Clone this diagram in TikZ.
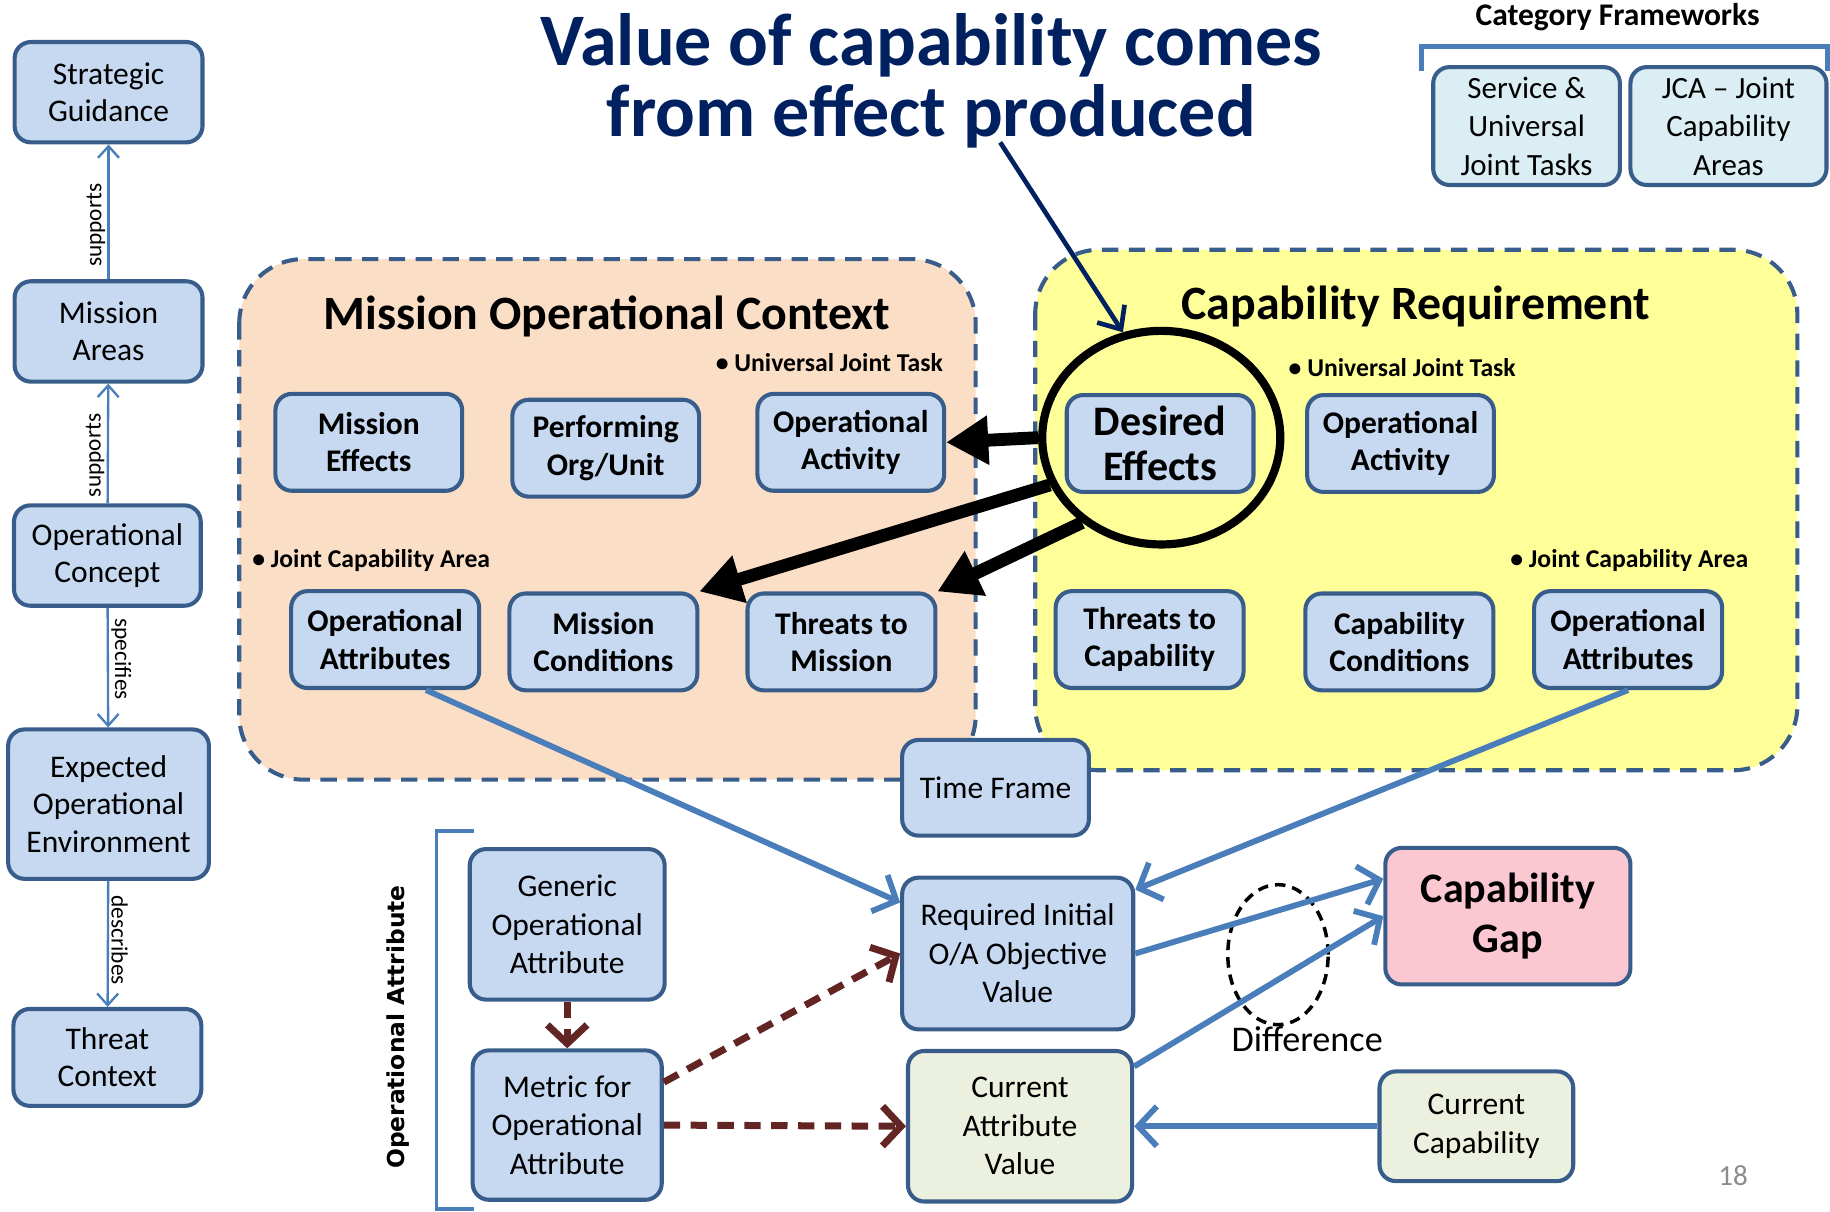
\documentclass[tikz,border=0pt]{standalone}
\usepackage{fontspec}
\setmainfont{Carlito}
\newfontfamily\vertfont{DejaVu Sans}
\usepackage{tikz}
\usetikzlibrary{arrows}
\usetikzlibrary{arrows.meta}
\usetikzlibrary{shapes.geometric}

\definecolor{boxfill}{HTML}{C6D9F1}
\definecolor{boxline}{HTML}{385D8A}
\definecolor{catfill}{HTML}{DBEEF4}
\definecolor{greenfill}{HTML}{EBF1DE}
\definecolor{gapfill}{HTML}{FBC8D2}
\definecolor{peach}{HTML}{FBDEC6}
\definecolor{lightyellow}{HTML}{FFFF99}
\definecolor{navy}{HTML}{002060}
\definecolor{linkblue}{HTML}{4A7EBB}
\definecolor{darkred}{HTML}{632523}

\begin{document}
\begin{tikzpicture}[x=1pt,y=-1pt,
			box/.style={rectangle,rounded corners=14pt,draw=boxline,line width=3.5pt,
				fill=boxfill,align=center,inner sep=0pt,font=\fontsize{27}{32}\selectfont},
			bold box/.style={box,font=\fontsize{27}{32}\selectfont\bfseries},
			dims/.style 2 args={minimum width=#1pt,minimum height=#2pt},
			region/.style={draw=boxline,line width=3.5pt,dash pattern=on 14pt off 9pt,
				rounded corners=55pt},
			tag/.style={font=\fontsize{22}{26}\selectfont\bfseries,inner sep=0pt},
			link/.style={draw=linkblue,line width=2pt,-{Straight Barb[length=10pt,width=18pt]}},
			flow/.style={draw=linkblue,line width=5pt,-{Straight Barb[length=16pt,width=34pt]}},
			metric/.style={draw=darkred,line width=6pt,dash pattern=on 14pt off 9pt,
				-{Straight Barb[length=16pt,width=34pt]}},
			effect/.style={draw=black,line width=11pt,-{Triangle[length=36pt,width=40pt]}},
			pointer/.style={draw=navy,line width=4pt,-{Straight Barb[length=16pt,width=28pt]}}]
			
			\useasboundingbox (0,0) rectangle (1568,1038);
			
			% context and requirement areas
			\draw[region,fill=peach] (205,222) rectangle (836,668);
			\draw[region,fill=lightyellow] (887,214) rectangle (1540,660);
			
			\node[font=\fontsize{63.5}{61}\selectfont\bfseries,text=navy,align=center] (title) at (798,69)
				{Value of capability comes\\from effect produced};
			\coordinate (p) at (857,122);
			
			% left column
			\node[box,dims={161}{86}] (A) at (93,79) {Strategic\\Guidance};
			\node[box,dims={161}{86}] (B) at (93,284) {Mission\\Areas};
			\node[box,dims={160}{86}] (C) at (92,476) {Operational\\Concept};
			\node[box,dims={172}{128}] (D) at (93,689) {Expected\\Operational\\Environment};
			\node[box,dims={161}{83}] (E) at (92,906) {Threat\\Context};
			
			% category frameworks
			\node[font=\fontsize{27}{32}\selectfont\bfseries] (cat) at (1386,15) {Category Frameworks};
			\draw[linkblue,line width=4pt] (1218,61) -- (1218,40) -- (1566,40) -- (1566,61);
			\node[box,fill=catfill,dims={160}{101},font=\fontsize{26.5}{33}\selectfont] (F) at (1308,108)
				{Service \&\\Universal\\Joint Tasks};
			\node[box,fill=catfill,dims={168}{101},font=\fontsize{26.5}{33}\selectfont] (G) at (1481,108)
				{JCA -- Joint\\Capability\\Areas};
			
			% mission operational context
			\node[font=\fontsize{41}{46}\selectfont\bfseries] (moc) at (520,271) {Mission Operational Context};
			\node[tag,anchor=east] at (808,311) {• Universal Joint Task};
			\node[tag,anchor=west] at (216,480) {• Joint Capability Area};
			\node[bold box,dims={160}{83}] (H) at (316,379) {Mission\\Effects};
			\node[bold box,dims={160}{83}] (I) at (519,384) {Performing\\Org/Unit};
			\node[bold box,dims={160}{83}] (J) at (729,379) {Operational\\Activity};
			\node[bold box,dims={161}{83}] (K) at (330,548) {Operational\\Attributes};
			\node[bold box,dims={161}{83}] (L) at (517,550) {Mission\\Conditions};
			\node[bold box,dims={161}{83}] (M) at (721,550) {Threats to\\Mission};
			
			% capability requirement
			\node[font=\fontsize{41}{46}\selectfont\bfseries] (cr) at (1213,263) {Capability Requirement};
			\node[tag,anchor=west] at (1104,315) {• Universal Joint Task};
			\node[tag,anchor=east] at (1498,480) {• Joint Capability Area};
			\node[bold box,dims={160}{83},font=\fontsize{36}{39}\selectfont\bfseries] (N) at (994,380)
				{Desired\\Effects};
			\node[bold box,dims={160}{83}] (O) at (1200,380) {Operational\\Activity};
			\node[bold box,dims={161}{83}] (P) at (985,548) {Threats to\\Capability};
			\node[bold box,dims={161}{83}] (Q) at (1199,550) {Capability\\Conditions};
			\node[bold box,dims={161}{83}] (R) at (1395,548) {Operational\\Attributes};
			
			\node[box,dims={160}{82}] (S) at (853,675) {Time Frame};
			
			% attribute values and gap
			\node[box,dims={198}{130},font=\fontsize{27}{33}\selectfont] (U) at (872,817)
				{Required Initial\\O/A Objective\\Value};
			\node[box,fill=greenfill,dims={192}{129},font=\fontsize{27}{33}\selectfont] (V) at (874,965)
				{Current\\Attribute\\Value};
			\node[box,fill=greenfill,dims={166}{94},font=\fontsize{27}{33}\selectfont] (W) at (1265,965)
				{Current\\Capability};
			\node[box,fill=gapfill,dims={210}{117},font=\fontsize{36}{43}\selectfont\bfseries] (X) at (1292,785)
				{Capability\\Gap};
			\node[box,dims={167}{129},font=\fontsize{27}{33}\selectfont] (Y) at (486,792)
				{Generic\\Operational\\Attribute};
			\node[box,dims={162}{128},font=\fontsize{27}{33}\selectfont] (Z) at (486,964)
				{Metric for\\Operational\\Attribute};
			
			\draw[linkblue,line width=3pt] (406,712) -- (374,712) -- (374,1036) -- (406,1036);
			\node[rotate=90,font=\vertfont\bfseries\fontsize{20}{24}\selectfont] (oa) at (341,880)
				{Operational Attribute};
			
			\node[ellipse,draw,line width=7pt,minimum width=204pt,minimum height=183pt,inner sep=0pt]
				(circ) at (995,375) {};
			\node[ellipse,draw,line width=3pt,dash pattern=on 9pt off 6pt,minimum width=86pt,
				minimum height=120pt,inner sep=0pt] (diff) at (1095,818) {};
			\node[font=\fontsize{31}{36}\selectfont] at (1120,890) {Difference};
			
			\node[text=black!45,font=\fontsize{25}{30}\selectfont] at (1485,1007) {18};
			
			\path[every edge/.style={link},every node/.style={font=\fontsize{20}{24}\selectfont,inner sep=2pt}]
			(B) edge node[rotate=90,above,pos=.4] {supports} (A)
			(C) edge node[rotate=90,above,pos=.4] {supports} (B)
			(C) edge node[rotate=-90,above,pos=.43] {specifies} (D)
			(D) edge node[rotate=-90,above,pos=.47] {describes} (E);
			
			\path[every edge/.style={effect}]
			(circ.180) edge (J.east)
			(circ.203) edge (L.north east)
			(circ.227) edge (M.north east);
			
			\path[every edge/.style={pointer}]
			(p) edge (circ.110);
			
			\path[every edge/.style={flow}]
			([xshift=35pt]K.south) edge ([yshift=-23pt]U.north west)
			(R.south) edge ([yshift=-12pt]U.north east)
			(U.east) edge ([yshift=32pt]X.west)
			([yshift=-15pt]V.north east) edge (X.west)
			(W.west) edge (V.east);
			
			\path[every edge/.style={metric}]
			(Y.south) edge (Z.north)
			([yshift=-29pt]Z.north east) edge (U.west)
			(Z.east) edge (V.west);
		\end{tikzpicture}
\end{document}
